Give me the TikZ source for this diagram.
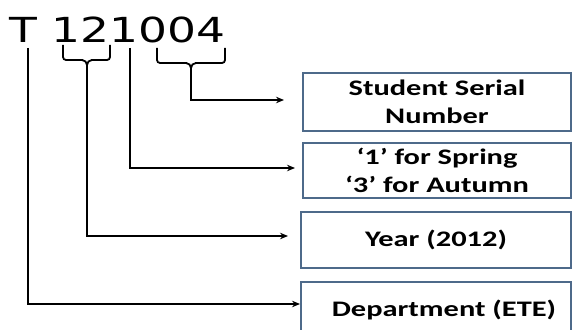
\documentclass[tikz,border=0pt]{standalone}
\usepackage{fontspec}
\usetikzlibrary{arrows.meta}
\newfontfamily\titlefont[FakeStretch=1.32]{DejaVu Sans}
\newfontfamily\boxfont[FakeStretch=1.37]{Carlito}
\definecolor{boxline}{RGB}{78,106,138}
\begin{document}
\begin{tikzpicture}[x=1pt,y=-1pt,
  conn/.style={line width=1.8pt,black},
  arr/.style={conn,-{Stealth[length=8pt,width=6.5pt]}},
  brace/.style={line width=1.8pt,black,rounded corners=3pt},
  infobox/.style={draw=boxline,line width=1.4pt,fill=white,minimum width=268pt,
    inner sep=0pt,align=center,font=\boxfont\bfseries\fontsize{22.2}{27.5}\selectfont},
  label/.style={inner sep=0pt,align=center,font=\boxfont\bfseries\fontsize{22.2}{27.5}\selectfont}]
\useasboundingbox (0,0) rectangle (572,329);
\begin{scope}
\clip (0,0) rectangle (572,329);
% title
\node[anchor=base west,inner sep=0pt,font=\titlefont\fontsize{34.5}{34.5}\selectfont] (title) at (9,43) {T 121004};
% boxes
\node[infobox,minimum height=58pt] (serial) at (437,102) {Student Serial\\Number};
\node[infobox,minimum height=55pt] (sem) at (437,170.5) {‘1’ for Spring\\‘3’ for Autumn};
\node[infobox,minimum width=270pt,minimum height=56pt] (year) at (436,240) {Year (2012)};
\draw[boxline,line width=1.4pt] (301,282) rectangle (571,350);
\node[label] (dept) at (444,310) {Department (ETE)};
% braces
\coordinate (b12) at (87,65);
\draw[brace] (63,45) -- (63,60) -- (83,60);
\draw[conn] (82,60) to[out=0,in=90] (b12);
\draw[brace] (110,45) -- (110,60) -- (91,60);
\draw[conn] (92,60) to[out=180,in=90] (b12);
\coordinate (b004) at (191,68);
\draw[brace] (157,48) -- (157,63) -- (187,63);
\draw[conn] (186,63) to[out=0,in=90] (b004);
\draw[brace] (225,48) -- (225,63) -- (195,63);
\draw[conn] (196,63) to[out=180,in=90] (b004);
% connector ends
\coordinate (tT) at (28,48);
\coordinate (t1) at (130,48);
\coordinate (eSerial) at (284,100);
\coordinate (eSem) at (295,168);
\coordinate (eYear) at (288,236);
\coordinate (eDept) at (300,304);
% connectors
\draw[arr] (b004) |- (eSerial);
\draw[arr] (t1) |- (eSem);
\draw[arr] (b12) |- (eYear);
\draw[arr] (tT) |- (eDept);
\end{scope}
\end{tikzpicture}
\end{document}
